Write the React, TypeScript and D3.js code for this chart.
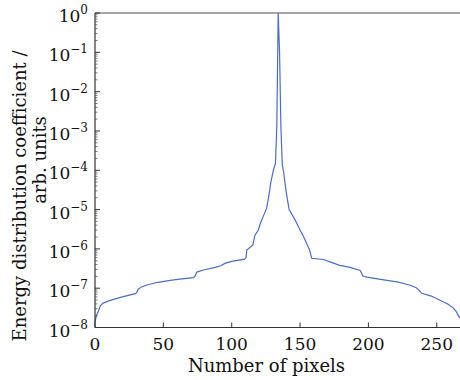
import React from 'react';
import * as d3 from 'd3';

// pixel index along the profile
const pixelIndex = [
  0, 1, 2.5, 4, 6, 11, 20, 29.5, 30.5, 31.5, 34, 38, 46, 55, 62, 72, 73, 74.5, 80, 88, 92, 95, 100,
  109.5, 110.5, 111, 115.5, 117, 119.5, 121, 123, 125.5, 127.5, 128.5, 130.5, 132, 133, 134, 135,
  136, 137, 138, 139, 140, 142, 145, 146.5, 150, 152, 157, 158.5, 167, 172, 179, 186.5, 194, 196,
  199, 210, 221, 230, 235, 237, 239, 246, 252, 258, 262, 264, 265.5, 267,
];
const energyExponent = [
  -7.87, -7.7, -7.58, -7.44, -7.38, -7.31, -7.22, -7.14, -7.11, -7.03, -6.97, -6.92, -6.85, -6.8,
  -6.77, -6.73, -6.7, -6.59, -6.53, -6.47, -6.43, -6.37, -6.32, -6.26, -6.22, -6.03, -5.9, -5.65,
  -5.52, -5.35, -5.18, -4.97, -4.58, -4.33, -4.0, -3.82, -2.9, 0, -1.0, -2.9, -3.85, -4.05, -4.33,
  -4.58, -5.0, -5.18, -5.27, -5.52, -5.65, -6.03, -6.24, -6.27, -6.33, -6.42, -6.47, -6.55, -6.69,
  -6.72, -6.78, -6.84, -6.92, -6.99, -7.05, -7.13, -7.2, -7.3, -7.4, -7.5, -7.58, -7.68, -7.76,
];
const xTicks = [0, 50, 100, 150, 200, 250];
const yTickExponents = [0, -1, -2, -3, -4, -5, -6, -7, -8];

const W = 460;
const H = 380;
const FONT = "'DejaVu Serif', 'Liberation Serif', serif";
const txt = { fontFamily: FONT };

export default function App() {
  const x = d3.scaleLinear().domain([0, 267]).range([95, 460]);
  const y = d3.scaleLog().domain([1e-8, 1]).range([327.5, 13]);
  const data = pixelIndex.map((p, i) => ({ p, v: Math.pow(10, energyExponent[i]) }));
  const line = d3
    .line<{ p: number; v: number }>()
    .x((d) => x(d.p))
    .y((d) => y(d.v));

  const minor: number[] = [];
  for (let e = -8; e < 0; e++) {
    for (let k = 2; k <= 9; k++) minor.push(k * Math.pow(10, e));
  }

  const x0 = x.range()[0];
  const x1 = x.range()[1];
  const yb = y.range()[0];
  const yt = y.range()[1];

  return (
    <svg
      width={W}
      height={H}
      style={{ position: 'absolute', left: 0, top: 0, background: '#fff' }}
    >
      <rect width={W} height={H} fill="#fff" />
      {/* top frame line */}
      <line x1={x0} x2={x1} y1={yt} y2={yt} stroke="#8a8a8a" strokeWidth={1.6} />
      {/* data line */}
      <path d={line(data) || ''} fill="none" stroke="#4a6ccc" strokeWidth={1.2} />
      {/* axes */}
      <line x1={x0} x2={x0} y1={yt} y2={yb} stroke="#333" strokeWidth={1.2} />
      <line x1={x0} x2={x1} y1={yb} y2={yb} stroke="#333" strokeWidth={1.2} />
      {minor.map((m, i) => (
        <line key={'m' + i} x1={x0} x2={x0 + 2.5} y1={y(m)} y2={y(m)} stroke="#555" strokeWidth={0.8} />
      ))}
      {yTickExponents.map((e) => (
        <g key={'y' + e}>
          <line x1={x0} x2={x0 + 5} y1={y(Math.pow(10, e))} y2={y(Math.pow(10, e))} stroke="#333" strokeWidth={1} />
          <text x={88} y={y(Math.pow(10, e)) + 9} textAnchor="end" fontSize={17} fill="#111" style={txt}>
            10
            <tspan dy={-8} fontSize={12}>
              {e === 0 ? '0' : '\u2212' + Math.abs(e)}
            </tspan>
          </text>
        </g>
      ))}
      {xTicks.map((t) => (
        <g key={'x' + t}>
          <line x1={x(t)} x2={x(t)} y1={yb} y2={yb - 5} stroke="#333" strokeWidth={1} />
          <text x={x(t)} y={349.5} textAnchor="middle" fontSize={17} fill="#111" style={txt}>
            {t}
          </text>
        </g>
      ))}
      <text x={266.5} y={372} textAnchor="middle" fontSize={18} fill="#111" style={txt}>
        Number of pixels
      </text>
      <text transform="translate(26,196) rotate(-90)" textAnchor="middle" fontSize={18} fill="#111" style={txt}>
        Energy distribution coefficient /
      </text>
      <text transform="translate(45.5,160) rotate(-90)" textAnchor="middle" fontSize={18} fill="#111" style={txt}>
        arb. units
      </text>
    </svg>
  );
}
